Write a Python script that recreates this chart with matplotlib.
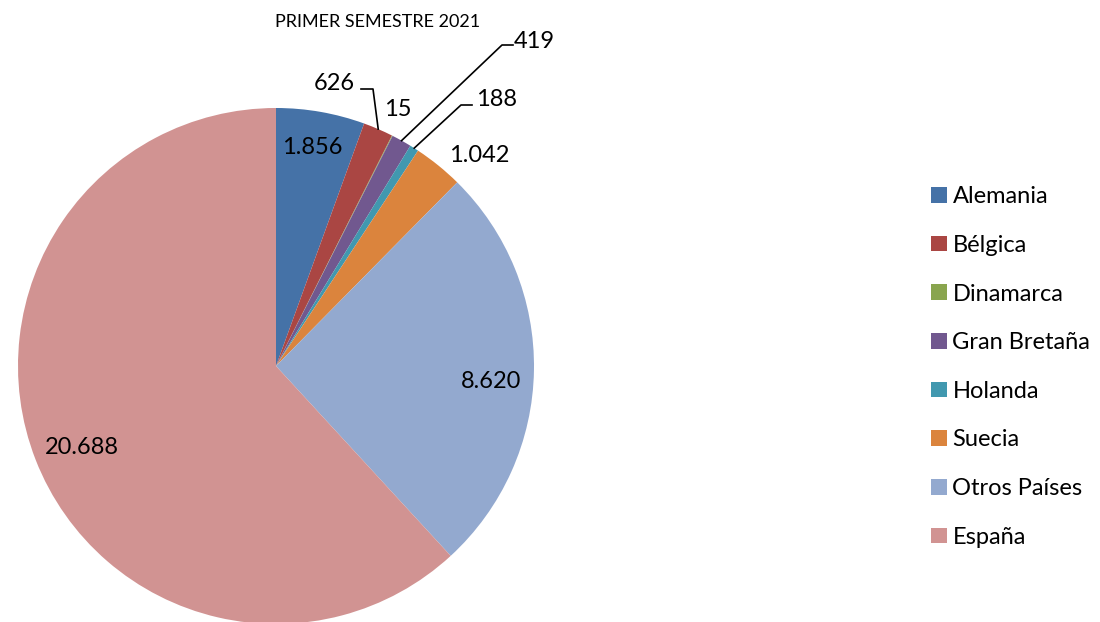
import numpy as np
import matplotlib.pyplot as plt

plt.rcParams['font.family'] = ['Lato', 'DejaVu Sans']

paises = ["Alemania", "Bélgica", "Dinamarca", "Gran Bretaña", "Holanda",
          "Suecia", "Otros Países", "España"]
turistas = [1856, 626, 15, 419, 188, 1042, 8620, 20688]
etiquetas = ["1.856", "626", "15", "419", "188", "1.042", "8.620", "20.688"]
colores = ["#4572A7", "#AA4643", "#89A54E", "#71588F", "#4198AF",
           "#DB843D", "#93A9CF", "#D19392"]
titulo = "PRIMER SEMESTRE 2021"

# canvas in pixels, y pointing up
W, H = 1100, 622
cx, cy, R = 276, H - 366, 258

fig = plt.figure(figsize=(W / 100, H / 100), dpi=100)
ax = fig.add_axes([0, 0, 1, 1])
wedges, _ = ax.pie(turistas, colors=colores, startangle=90, counterclock=False,
                   center=(cx, cy), radius=R, wedgeprops=dict(linewidth=0))
ax.set_xlim(0, W)
ax.set_ylim(0, H)
ax.set_aspect('equal')
ax.axis('off')

def edge(w, f=1.0):
    a = np.deg2rad((w.theta1 + w.theta2) / 2)
    return cx + f * R * np.cos(a), cy + f * R * np.sin(a)

def px(x, y):
    return x, H - y

fs = 17
# labels placed like the Excel "best fit" layout
pos_labels = {0: (312, 148), 1: (334, 83), 2: (398, 110), 3: (534, 41),
              4: (497, 100), 5: (479, 155), 6: (491, 382), 7: (82, 447)}
for i, (x, y) in pos_labels.items():
    ax.text(*px(x, y), etiquetas[i], ha='center', va='center', fontsize=fs, color='black')

# leader lines
bends = {1: [(361, 89), (373, 89)], 3: [(513, 45), (502, 45)], 4: [(472, 105), (461, 105)]}
for i, pts in bends.items():
    ex, ey = edge(wedges[i])
    xs = [p[0] for p in pts] + [ex]
    ys = [H - p[1] for p in pts] + [ey]
    ax.plot(xs, ys, color='black', lw=1.2)

fig.text(378 / W, 1 - 22 / H, titulo, ha='center', va='center', fontsize=13)

fig.legend(wedges, paises, loc='center left', bbox_to_anchor=(922 / W, 1 - 367 / H),
           frameon=False, fontsize=17, handlelength=0.64, handleheight=0.64,
           handletextpad=0.25, labelspacing=1.17, borderaxespad=0)

fig.savefig("out.png", dpi=100)
